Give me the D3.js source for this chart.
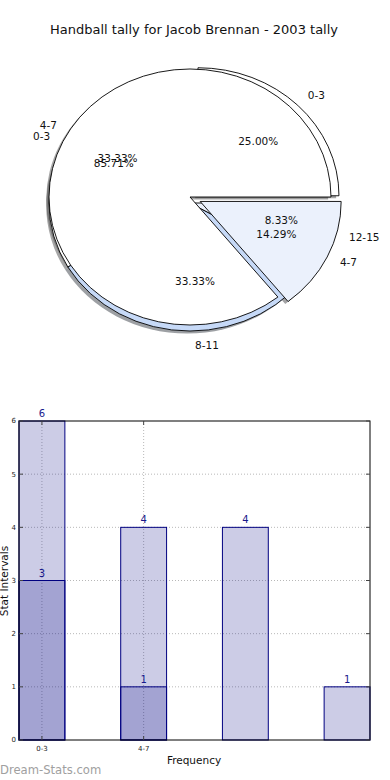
<!DOCTYPE html>
<html>
<head>
<meta charset="utf-8">
<script src="https://cdn.jsdelivr.net/npm/d3@7"></script>
<style>
  body { margin: 0; background: #fff; }
  svg { display: block; }
  text { font-family: "DejaVu Sans", sans-serif; }
</style>
</head>
<body>
<div id="chart"></div>
<script>
// data
const categories = ["0-3", "4-7", "8-11", "12-15"];
const seriesA = [3, 4, 4, 1];
const seriesB = [6, 1];
const xTickLabels = ["0-3", "4-7"];
const yTicks = [0, 1, 2, 3, 4, 5, 6];
const title = "Handball tally for Jacob Brennan - 2003 tally";

const svg = d3.select("#chart").append("svg").attr("width", 390).attr("height", 780);

svg.append("text")
  .attr("x", 194).attr("y", 34)
  .attr("text-anchor", "middle")
  .style("font-size", "13px")
  .style("fill", "#111")
  .text(title);

// ---- pies ----
const pies = [
  {
    values: seriesA, labels: categories,
    cx: 190, cy: 203, rx: 141, ry: 128,
    explode: [0.08, 0, 0, 0],
    colors: ["#ffffff", "#ffffff", "#c6d9f7", "#ebf1fc"],
    txt: { cx: 195, cy: 199, rx: 149, ry: 137, lab: 1.07, pct: 0.6, useExplode: false }
  },
  {
    values: seriesB, labels: categories.slice(0, 2),
    cx: 190, cy: 197, rx: 141, ry: 128,
    explode: [0, 0.08],
    colors: ["#ffffff", "#ebf1fc"],
    txt: { cx: 190, cy: 197, rx: 141, ry: 128, lab: 1.1, pct: 0.6, useExplode: true }
  }
];

const pieGen = d3.pie().sort(null)
  .startAngle(Math.PI / 2)
  .endAngle(Math.PI / 2 - 2 * Math.PI);

pies.forEach(function (p) {
  p.arcs = pieGen(p.values);
  p.total = d3.sum(p.values);
  p.arc = d3.arc().innerRadius(0).outerRadius(p.rx);
});

function mid(d) { return (d.startAngle + d.endAngle) / 2; }
function offset(p, d, i) {
  const e = p.explode[i] || 0;
  return [e * p.rx * Math.sin(mid(d)), -e * p.ry * Math.cos(mid(d))];
}

const shadowLayer = svg.append("g");
const wedgeLayer = svg.append("g");
const textLayer = svg.append("g");

pies.forEach(function (p) {
  // shadows
  shadowLayer.selectAll(null)
    .data(p.arcs)
    .enter()
    .append("path")
    .attr("transform", function (d, i) {
      const o = offset(p, d, i);
      return "translate(" + (p.cx + o[0] - 2.8) + "," + (p.cy + o[1] + 2.6) + ") scale(1," + (p.ry / p.rx) + ")";
    })
    .attr("d", p.arc)
    .attr("fill", function (d, i) {
      const c = d3.rgb(p.colors[i]);
      return d3.rgb(c.r * 0.3, c.g * 0.3, c.b * 0.3);
    })
    .style("opacity", 0.5);

  // wedges
  wedgeLayer.selectAll(null)
    .data(p.arcs)
    .enter()
    .append("path")
    .attr("transform", function (d, i) {
      const o = offset(p, d, i);
      return "translate(" + (p.cx + o[0]) + "," + (p.cy + o[1]) + ") scale(1," + (p.ry / p.rx) + ")";
    })
    .attr("d", p.arc)
    .attr("fill", function (d, i) { return p.colors[i]; })
    .attr("stroke", "#000")
    .attr("stroke-width", 0.9)
    .attr("vector-effect", "non-scaling-stroke");

  // labels
  const t = p.txt;
  p.arcs.forEach(function (d, i) {
    const e = t.useExplode ? (p.explode[i] || 0) : 0;
    const s = Math.sin(mid(d)), c = Math.cos(mid(d));
    textLayer.append("text")
      .attr("x", t.cx + (t.lab + e) * t.rx * s)
      .attr("y", t.cy - (t.lab + e) * t.ry * c)
      .attr("dy", "0.35em")
      .attr("text-anchor", s > -1e-6 ? "start" : "end")
      .style("font-size", "10.5px")
      .style("fill", "#111")
      .text(p.labels[i]);
    textLayer.append("text")
      .attr("x", t.cx + (t.pct + e) * t.rx * s)
      .attr("y", t.cy - (t.pct + e) * t.ry * c)
      .attr("dy", "0.35em")
      .attr("text-anchor", "middle")
      .style("font-size", "10.5px")
      .style("fill", "#111")
      .text(d3.format(".2f")(d.value / p.total * 100) + "%");
  });
});

// ---- bar chart ----
const plotLeft = 19, plotRight = 370, plotTop = 421, plotBottom = 740;

const x = d3.scaleBand()
  .domain(categories)
  .range([plotLeft, plotRight])
  .paddingInner(0.549)
  .paddingOuter(0);

const y = d3.scaleLinear().domain([0, 6]).range([plotBottom, plotTop]);

const plot = svg.append("g");

// grid
plot.selectAll(".hgrid")
  .data(yTicks.slice(1, -1))
  .enter()
  .append("line")
  .attr("x1", plotLeft).attr("x2", plotRight)
  .attr("y1", function (d) { return y(d); })
  .attr("y2", function (d) { return y(d); })
  .attr("stroke", "#b8b8b8")
  .attr("stroke-dasharray", "1,2");

plot.selectAll(".vgrid")
  .data(xTickLabels)
  .enter()
  .append("line")
  .attr("x1", function (d) { return x(d) + x.bandwidth() / 2; })
  .attr("x2", function (d) { return x(d) + x.bandwidth() / 2; })
  .attr("y1", plotTop).attr("y2", plotBottom)
  .attr("stroke", "#b8b8b8")
  .attr("stroke-dasharray", "1,2");

// bars
const series = [seriesA, seriesB];
series.forEach(function (vals) {
  plot.selectAll(null)
    .data(vals)
    .enter()
    .append("rect")
    .attr("x", function (d, i) { return x(categories[i]); })
    .attr("y", function (d) { return y(d); })
    .attr("width", x.bandwidth())
    .attr("height", function (d) { return plotBottom - y(d); })
    .attr("fill", "#000080")
    .attr("fill-opacity", 0.2)
    .attr("stroke", "#000080")
    .attr("stroke-width", 1);

  plot.selectAll(null)
    .data(vals)
    .enter()
    .append("text")
    .attr("x", function (d, i) { return x(categories[i]) + x.bandwidth() / 2; })
    .attr("y", function (d) { return y(d) - 4; })
    .attr("text-anchor", "middle")
    .style("font-size", "10px")
    .style("fill", "#1a1a8c")
    .text(function (d) { return d; });
});

// frame
plot.append("rect")
  .attr("x", plotLeft).attr("y", plotTop)
  .attr("width", plotRight - plotLeft).attr("height", plotBottom - plotTop)
  .attr("fill", "none")
  .attr("stroke", "#000")
  .attr("stroke-width", 1);

// ticks
yTicks.forEach(function (v) {
  plot.append("line").attr("x1", plotLeft).attr("x2", plotLeft + 4)
    .attr("y1", y(v)).attr("y2", y(v)).attr("stroke", "#444");
  plot.append("line").attr("x1", plotRight - 4).attr("x2", plotRight)
    .attr("y1", y(v)).attr("y2", y(v)).attr("stroke", "#444");
  plot.append("text")
    .attr("x", plotLeft - 3).attr("y", y(v))
    .attr("dy", "0.35em")
    .attr("text-anchor", "end")
    .style("font-size", "7px")
    .style("fill", "#222")
    .text(v);
});

xTickLabels.forEach(function (c) {
  const cx = x(c) + x.bandwidth() / 2;
  plot.append("line").attr("x1", cx).attr("x2", cx)
    .attr("y1", plotBottom).attr("y2", plotBottom - 4).attr("stroke", "#444");
  plot.append("line").attr("x1", cx).attr("x2", cx)
    .attr("y1", plotTop).attr("y2", plotTop + 4).attr("stroke", "#444");
  plot.append("text")
    .attr("x", cx).attr("y", plotBottom + 11)
    .attr("text-anchor", "middle")
    .style("font-size", "7px")
    .style("fill", "#222")
    .text(c);
});

svg.append("text")
  .attr("x", 194).attr("y", 764)
  .attr("text-anchor", "middle")
  .style("font-size", "10.5px")
  .style("fill", "#111")
  .text("Frequency");

svg.append("text")
  .attr("transform", "translate(8,581) rotate(-90)")
  .attr("text-anchor", "middle")
  .style("font-size", "10.5px")
  .style("fill", "#111")
  .text("Stat Intervals");

svg.append("text")
  .attr("x", 0).attr("y", 774)
  .style("font-size", "11.6px")
  .style("fill", "#a0a0a0")
  .text("Dream-Stats.com");
</script>
</body>
</html>
